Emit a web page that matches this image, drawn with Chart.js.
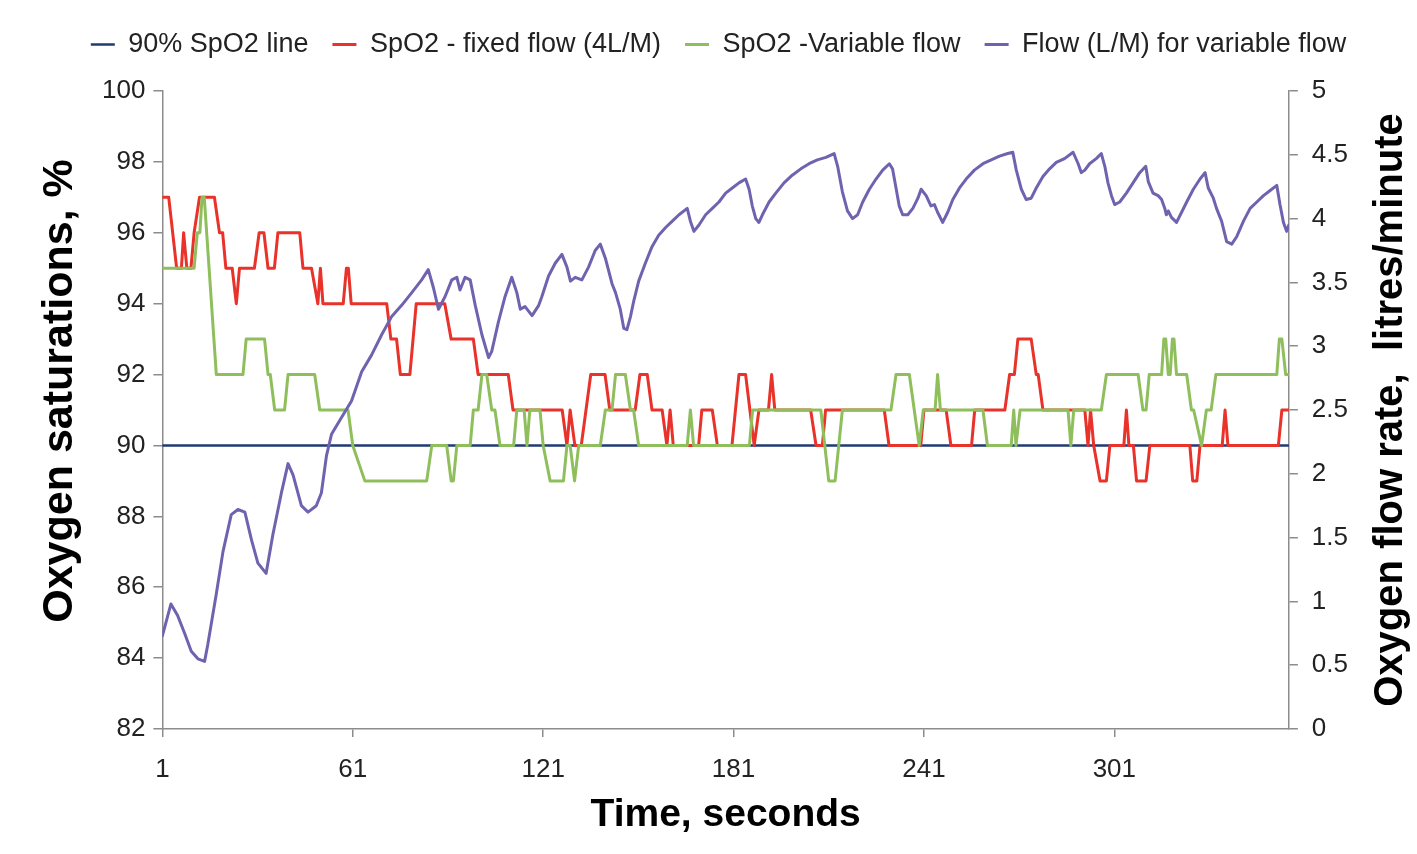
<!DOCTYPE html>
<html>
<head>
<meta charset="utf-8">
<script src="https://cdn.jsdelivr.net/npm/chart.js@4/dist/chart.umd.min.js"></script>
<style>
  html, body { margin: 0; padding: 0; background: #fff; }
  #wrap { width: 1417px; height: 854px; }
</style>
</head>
<body>
<div id="wrap"><canvas id="grafico" width="1417" height="854"></canvas></div>
<script>
// Dados (tempo em segundos)
const tickSeconds = [1, 61, 121, 181, 241, 301];

const thresholdTime = [1, 356];
const thresholdSpO2 = [90, 90];

const fixedTime = [1, 3, 5.5, 7, 7.7, 8.7, 10, 11, 12.7, 17.4, 19, 20, 21, 23, 24.3, 25.3, 30, 31.5, 33, 34.3,
  36.3, 37.4, 44.3, 45.3, 48, 50, 50.8, 51.6, 58, 59, 59.6, 60.5, 71.7, 73, 74.8, 76, 79, 81, 90, 92,
  99, 100.5, 110, 111.5, 127, 128.5, 129.5, 131, 133, 134.5, 136, 140.5, 142, 150, 151.5, 153.8, 155.3, 158.5, 160, 161,
  162, 170, 171, 174.3, 175.9, 180.5, 182.7, 184.8, 187.5, 189, 192, 193, 194, 205.3, 207, 209, 210, 228.5, 230, 240,
  241, 248, 249.5, 256, 257, 266.5, 268, 269.5, 270.6, 274.8, 276.4, 277, 278.5, 291.7, 292.7, 293.5, 294.5, 296.5, 298.5, 299.6,
  304, 304.8, 305.6, 307, 308, 311, 312.2, 324.8, 325.7, 327, 328, 335, 335.9, 336.8, 352.7, 353.8, 356];
const fixedSpO2 = [97, 97, 95, 95, 96, 95, 95, 96, 97, 97, 96, 96, 95, 95, 94, 95, 95, 96, 96, 95,
  95, 96, 96, 95, 95, 94, 95, 94, 94, 95, 95, 94, 94, 93, 93, 92, 92, 94, 94, 93,
  93, 92, 92, 91, 91, 90, 91, 90, 90, 91, 92, 92, 91, 91, 92, 92, 91, 91, 90, 91,
  90, 90, 91, 91, 90, 90, 92, 92, 90, 91, 91, 92, 91, 91, 90, 90, 91, 91, 90, 90,
  91, 91, 90, 90, 91, 91, 92, 92, 93, 93, 92, 92, 91, 91, 90, 91, 90, 89, 89, 90,
  90, 91, 90, 90, 89, 89, 90, 90, 89, 89, 90, 90, 91, 90, 90, 91, 91];

const variableTime = [1, 11, 12, 12.8, 13.5, 14.2, 18, 26.4, 27.4, 33.2, 34.3, 35, 36.4, 39.5, 40.6, 49, 50.6, 59.5, 61, 64.8,
  84.3, 85.9, 90.6, 92, 92.7, 93.8, 98, 99, 100.5, 101.7, 103.2, 104.8, 105.8, 107.4, 111.7, 112.7, 115, 115.9, 116.8, 120,
  121, 123.2, 127.4, 128.5, 129.5, 130.9, 132.2, 139, 140.6, 142.7, 143.8, 146.9, 148.5, 149.5, 151.1, 166.4, 167.4, 168.4, 186, 187,
  208.5, 211, 213, 215.3, 230.6, 232.2, 236.4, 239.5, 240.8, 244.5, 245.3, 246.2, 259.6, 261, 268.5, 269.3, 270, 271.3, 286.4, 287.3,
  288.2, 296.9, 298.5, 308.5, 310, 311, 312, 315.9, 316.6, 317.2, 318, 318.6, 319.3, 319.8, 320.6, 323.8, 325.3, 326, 328.5, 330,
  331.5, 333, 352.2, 353, 353.8, 355, 356];
const variableSpO2 = [95, 95, 96, 96, 97, 97, 92, 92, 93, 93, 92, 92, 91, 91, 92, 92, 91, 91, 90, 89,
  89, 90, 90, 89, 89, 90, 90, 91, 91, 92, 92, 91, 91, 90, 90, 91, 91, 90, 91, 91,
  90, 89, 89, 90, 90, 89, 90, 90, 91, 91, 92, 92, 91, 91, 90, 90, 91, 90, 90, 91,
  91, 89, 89, 91, 91, 92, 92, 90, 91, 91, 92, 91, 91, 90, 90, 91, 90, 91, 91, 90,
  91, 91, 92, 92, 91, 91, 92, 92, 93, 93, 92, 92, 93, 93, 92, 92, 91, 91, 90, 91,
  91, 92, 92, 93, 93, 92, 92];

const flowTime = [1, 3.7, 5.8, 8, 10.1, 12.2, 14.3, 15.3, 18, 20.1, 22.7, 24.8, 27, 29.1, 31.1, 33.7, 35.8, 38.5, 40.6, 42.2,
  44.8, 46.9, 49.5, 51.1, 52.7, 54.3, 57.4, 60.6, 63.8, 66.9, 70.1, 73.2, 76.4, 79.6, 82.7, 84.8, 86.4, 88, 90.1, 92.2,
  93.8, 94.8, 96.4, 98, 99.6, 101.7, 103.8, 104.8, 106.9, 109, 111.1, 112.7, 113.8, 115.3, 117.5, 119.6, 120.6, 122.7, 124.8, 126.9,
  128.5, 129.6, 131.1, 133.2, 135.3, 137.4, 139, 140.6, 142.7, 143.8, 145.3, 146.4, 147.4, 148.5, 149.6, 151.1, 153.2, 155.3, 157.4, 159.6,
  161.7, 163.8, 166.4, 167.4, 168.5, 170.1, 172.2, 174.3, 176.4, 178.5, 180.6, 182.7, 184.8, 185.9, 186.9, 188, 189, 190.1, 192.2, 194.3,
  196.9, 199.5, 202.2, 204.8, 207.4, 210.1, 212.7, 213.8, 215.3, 216.9, 218.5, 220.1, 221.7, 223.8, 225.9, 228, 230.1, 231.1, 232.2, 233.2,
  234.3, 235.9, 237.5, 239.1, 240.1, 241.7, 243.2, 244.3, 245.3, 246.9, 248.5, 250.1, 252.2, 254.3, 256.9, 259.6, 262.2, 264.8, 267.4, 269,
  270.1, 271.7, 273.2, 274.8, 276.4, 278.5, 280.6, 282.7, 285.3, 288, 289.6, 290.6, 291.7, 293.2, 295.3, 296.9, 298, 299, 300.1, 301.1,
  302.7, 304.8, 306.9, 309, 310.9, 311.7, 313.2, 314.8, 315.9, 316.9, 317.4, 318, 319, 320.6, 322.2, 323.8, 325.9, 328, 329.6, 330.6,
  332.2, 333.2, 334.8, 336.4, 338, 339.6, 341.7, 343.8, 345.9, 348, 350.1, 352.2, 353.2, 354.3, 355.3, 356];
const flowRate = [0.73, 0.98, 0.89, 0.75, 0.61, 0.55, 0.53, 0.66, 1.06, 1.39, 1.68, 1.72, 1.70, 1.48, 1.30, 1.22, 1.52, 1.85, 2.08, 1.99,
  1.75, 1.70, 1.75, 1.85, 2.14, 2.31, 2.44, 2.57, 2.80, 2.93, 3.09, 3.23, 3.32, 3.42, 3.52, 3.60, 3.46, 3.29, 3.39, 3.52,
  3.54, 3.44, 3.54, 3.52, 3.32, 3.09, 2.91, 2.96, 3.19, 3.39, 3.54, 3.42, 3.29, 3.31, 3.24, 3.32, 3.39, 3.55, 3.65, 3.72,
  3.62, 3.51, 3.54, 3.52, 3.62, 3.75, 3.80, 3.69, 3.49, 3.42, 3.29, 3.14, 3.13, 3.23, 3.36, 3.51, 3.65, 3.78, 3.87, 3.93,
  3.98, 4.03, 4.08, 3.98, 3.90, 3.95, 4.03, 4.08, 4.13, 4.20, 4.24, 4.28, 4.31, 4.23, 4.10, 4.00, 3.97, 4.03, 4.13, 4.20,
  4.28, 4.34, 4.39, 4.43, 4.46, 4.48, 4.51, 4.41, 4.21, 4.06, 4.00, 4.03, 4.13, 4.23, 4.31, 4.38, 4.43, 4.39, 4.24, 4.10,
  4.03, 4.03, 4.08, 4.16, 4.23, 4.18, 4.10, 4.11, 4.05, 3.97, 4.05, 4.15, 4.24, 4.31, 4.38, 4.43, 4.46, 4.49, 4.51, 4.52,
  4.38, 4.23, 4.15, 4.16, 4.24, 4.33, 4.39, 4.44, 4.47, 4.52, 4.43, 4.36, 4.38, 4.43, 4.47, 4.51, 4.41, 4.28, 4.18, 4.11,
  4.13, 4.20, 4.28, 4.36, 4.41, 4.29, 4.20, 4.18, 4.15, 4.08, 4.03, 4.06, 4.01, 3.97, 4.05, 4.13, 4.23, 4.31, 4.36, 4.24,
  4.16, 4.08, 3.98, 3.82, 3.80, 3.86, 3.98, 4.08, 4.13, 4.18, 4.22, 4.26, 4.11, 3.97, 3.90, 3.95];

const FONTE = "'Liberation Sans', Arial, sans-serif";

function pares(xs, ys) {
  return xs.map((x, i) => ({ x: x, y: ys[i] }));
}

// Legenda numa só linha, mais larga que a área do gráfico, e com espaço extra por baixo
const margemLegenda = {
  id: "margemLegenda",
  beforeInit(chart) {
    const fitOriginal = chart.legend.fit;
    chart.legend.fit = function () {
      this.maxWidth = chart.width;
      fitOriginal.bind(chart.legend)();
      this.height += 23;
    };
  },
  afterLayout(chart) {
    chart.legend.left = 20;
    chart.legend.right = chart.width;
  },
};

// Títulos verticais (os dois lidos de baixo para cima, como no original)
const titulosVerticais = {
  id: "titulosVerticais",
  afterDraw(chart) {
    const ctx = chart.ctx;
    const area = chart.chartArea;
    const desenhar = (texto, x, y, tamanho) => {
      ctx.save();
      ctx.translate(x, y);
      ctx.rotate(-Math.PI / 2);
      ctx.font = "bold " + tamanho + "px " + FONTE;
      ctx.fillStyle = "#000";
      ctx.textAlign = "center";
      ctx.textBaseline = "middle";
      ctx.fillText(texto, 0, 0);
      ctx.restore();
    };
    desenhar("Oxygen saturations, %", 60, 391, 43);
    desenhar("Oxygen flow rate,  litres/minute", 1391, (area.top + area.bottom) / 2, 40);
  },
};

const corEixo = "#8c8c8c";

new Chart(document.getElementById("grafico").getContext("2d"), {
  type: "line",
  data: {
    datasets: [
      {
        label: "90% SpO2 line",
        data: pares(thresholdTime, thresholdSpO2),
        borderColor: "#213a73",
        backgroundColor: "#213a73",
        borderWidth: 2.5,
        yAxisID: "y",
        order: 4,
      },
      {
        label: "SpO2 - fixed flow (4L/M)",
        data: pares(fixedTime, fixedSpO2),
        borderColor: "#e8322a",
        backgroundColor: "#e8322a",
        borderWidth: 3,
        yAxisID: "y",
        order: 3,
      },
      {
        label: "SpO2 -Variable flow",
        data: pares(variableTime, variableSpO2),
        borderColor: "#8fbf5c",
        backgroundColor: "#8fbf5c",
        borderWidth: 3,
        yAxisID: "y",
        order: 2,
      },
      {
        label: "Flow (L/M) for variable flow",
        data: pares(flowTime, flowRate),
        borderColor: "#6f63b0",
        backgroundColor: "#6f63b0",
        borderWidth: 3,
        yAxisID: "y1",
        order: 1,
      },
    ],
  },
  options: {
    responsive: false,
    animation: false,
    devicePixelRatio: 1,
    layout: { padding: { left: 94, right: 55, top: 7, bottom: 15 } },
    elements: {
      point: { radius: 0 },
      line: { tension: 0, borderJoinStyle: "round", borderCapStyle: "round" },
    },
    plugins: {
      tooltip: { enabled: false },
      legend: {
        position: "top",
        labels: {
          usePointStyle: true,
          pointStyle: "line",
          pointStyleWidth: 24,
          padding: 24,
          color: "#222",
          font: { family: FONTE, size: 27 },
          sort: (a, b) => a.datasetIndex - b.datasetIndex,
        },
      },
    },
    scales: {
      x: {
        type: "linear",
        min: 1,
        max: 356,
        afterBuildTicks: (axis) => {
          axis.ticks = tickSeconds.map((v) => ({ value: v }));
        },
        grid: { drawOnChartArea: false, drawTicks: true, tickLength: 8, color: corEixo, lineWidth: 1.5 },
        border: { color: corEixo, width: 1.5 },
        ticks: {
          autoSkip: false,
          maxRotation: 0,
          padding: 17,
          color: "#222",
          font: { family: FONTE, size: 26 },
        },
        title: {
          display: true,
          text: "Time, seconds",
          color: "#000",
          padding: { top: -10, bottom: 0 },
          font: { family: FONTE, size: 39, weight: "bold" },
        },
      },
      y: {
        position: "left",
        min: 82,
        max: 100,
        ticks: {
          stepSize: 2,
          padding: 8,
          color: "#222",
          font: { family: FONTE, size: 26 },
        },
        grid: { drawOnChartArea: false, drawTicks: true, tickLength: 9, color: corEixo, lineWidth: 1.5 },
        border: { color: corEixo, width: 1.5 },
      },
      y1: {
        position: "right",
        min: 0,
        max: 5,
        ticks: {
          stepSize: 0.5,
          padding: 14,
          color: "#222",
          font: { family: FONTE, size: 26 },
          callback: (v) => String(v),
        },
        grid: { drawOnChartArea: false, drawTicks: true, tickLength: 9, color: corEixo, lineWidth: 1.5 },
        border: { color: corEixo, width: 1.5 },
      },
    },
  },
  plugins: [margemLegenda, titulosVerticais],
});
</script>
</body>
</html>
